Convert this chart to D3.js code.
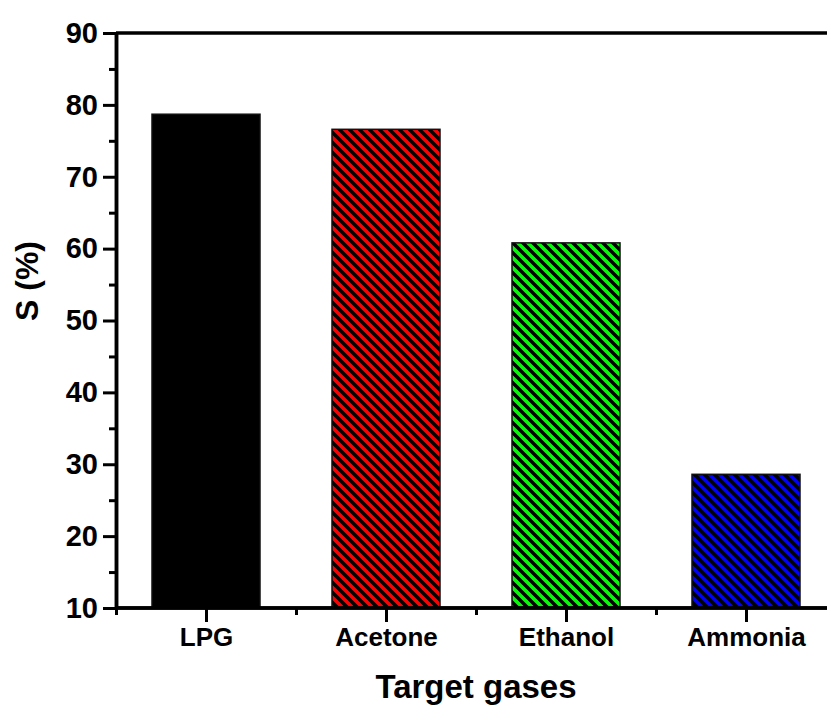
<!DOCTYPE html>
<html>
<head>
<meta charset="utf-8">
<script src="https://cdn.jsdelivr.net/npm/d3@7"></script>
<style>
  html, body { margin: 0; padding: 0; background: #fff; }
  svg { display: block; font-family: "Liberation Sans", Arial, sans-serif; font-weight: bold; }
</style>
</head>
<body>
<svg id="chart" width="827" height="707"></svg>
<script>
// Gas-sensing response for each target gas
const gases = ["LPG", "Acetone", "Ethanol", "Ammonia"];
const response = [78.7, 76.6, 60.8, 28.6];
const barColors = ["#000000", "#ff0000", "#00ff00", "#0000ff"];
const yMajorTicks = [10, 20, 30, 40, 50, 60, 70, 80, 90];
const yMinorTicks = [15, 25, 35, 45, 55, 65, 75, 85];
const xMinorTicks = [0.5, 1.5, 2.5, 3.5, 4.5];

const svg = d3.select("#chart");
const W = 827, H = 707;

// Axis frame: categories sit at 1..4, frame spans 0.5..4.5
const x = d3.scaleLinear().domain([0.5, 4.5]).range([116, 836]);
const y = d3.scaleLinear().domain([10, 90]).range([608, 33]);
const barWidth = 0.6;

// Diagonal hatch patterns, one per coloured bar
const defs = svg.append("defs");
barColors.forEach((c, i) => {
  const p = defs.append("pattern")
    .attr("id", "hatch" + i)
    .attr("patternUnits", "userSpaceOnUse")
    .attr("width", 10).attr("height", 10);
  p.append("rect").attr("width", 10).attr("height", 10).attr("fill", c);
  const d = "M-1,-1 L11,11 M-1,9 L1,11 M9,-1 L11,1";
  p.append("path").attr("d", d).attr("stroke", "#000").attr("stroke-width", 3.4);
});

// Bars
svg.append("g").selectAll("rect")
  .data(gases)
  .join("rect")
  .attr("x", (d, i) => x(i + 1 - barWidth / 2))
  .attr("width", (d, i) => x(i + 1 + barWidth / 2) - x(i + 1 - barWidth / 2))
  .attr("y", (d, i) => y(response[i]))
  .attr("height", (d, i) => y(10) - y(response[i]))
  .attr("fill", (d, i) => i === 0 ? "#000" : `url(#hatch${i})`)
  .attr("stroke", "#111")
  .attr("stroke-width", 1.5);

// Top frame line
svg.append("line")
  .attr("x1", x(0.5)).attr("x2", W + 5)
  .attr("y1", y(90)).attr("y2", y(90))
  .attr("stroke", "#000").attr("stroke-width", 3.5);

// Y axis: minor ticks, then major ticks with labels
const yMinor = svg.append("g").attr("transform", `translate(${x(0.5)},0)`)
  .call(d3.axisLeft(y).tickValues(yMinorTicks).tickSize(7).tickSizeOuter(0).tickFormat(""));
const yMajor = svg.append("g").attr("transform", `translate(${x(0.5)},0)`)
  .call(d3.axisLeft(y).tickValues(yMajorTicks).tickSize(13).tickSizeOuter(0).tickPadding(5));

// X axis: minor ticks between categories, major ticks at categories
const xMinor = svg.append("g").attr("transform", `translate(0,${y(10)})`)
  .call(d3.axisBottom(x).tickValues(xMinorTicks).tickSize(7).tickSizeOuter(0).tickFormat(""));
const xMajor = svg.append("g").attr("transform", `translate(0,${y(10)})`)
  .call(d3.axisBottom(x).tickValues([1, 2, 3, 4]).tickSize(14).tickSizeOuter(0).tickPadding(6)
    .tickFormat(d => gases[d - 1]));

[yMinor, yMajor, xMinor, xMajor].forEach(g => {
  g.selectAll(".domain").attr("stroke", "#000").attr("stroke-width", 3.5);
  g.selectAll(".tick line").attr("stroke", "#000").attr("stroke-width", 3);
});
xMajor.select(".domain").attr("d", `M${x(0.5)},0H${W + 5}`);
xMinor.select(".domain").attr("d", `M${x(0.5)},0H${W + 5}`);

yMajor.selectAll(".tick text")
  .attr("fill", "#000").attr("font-size", 29).attr("font-weight", "bold")
  .attr("font-family", "'Liberation Sans', Arial, sans-serif");
xMajor.selectAll(".tick text")
  .attr("fill", "#000").attr("font-size", 26).attr("font-weight", "bold")
  .attr("font-family", "'Liberation Sans', Arial, sans-serif");

// Axis titles
svg.append("text")
  .attr("x", x(2.5)).attr("y", 698)
  .attr("text-anchor", "middle")
  .attr("font-size", 33)
  .text("Target gases");

svg.append("text")
  .attr("transform", "translate(38,281) rotate(-90)")
  .attr("text-anchor", "middle")
  .attr("font-size", 32)
  .text("S (%)");
</script>
</body>
</html>
